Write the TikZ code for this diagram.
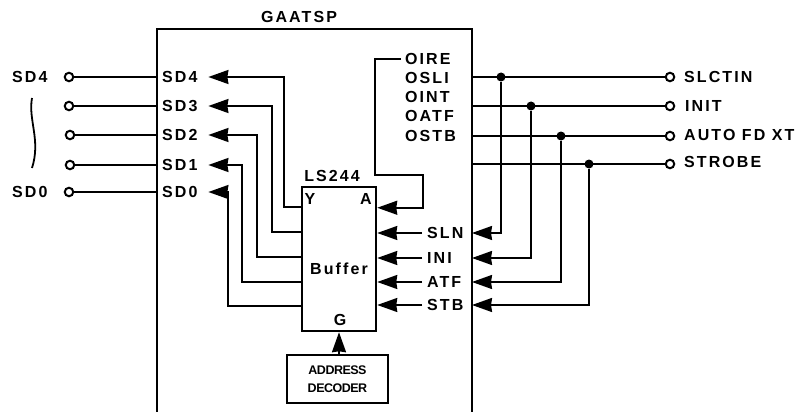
\documentclass[tikz,border=0pt]{standalone}
\usepackage{fontspec}
\usepackage{tikz}
\usetikzlibrary{arrows.meta,positioning}
\setmainfont{Liberation Sans}
\newfontfamily\sigfont[LetterSpace=13]{Liberation Sans Bold}
\newfontfamily\tightfont[LetterSpace=-4]{Liberation Sans Bold}

\begin{document}
\begin{tikzpicture}[
  x=1pt, y=-1pt,
  sig/.style={anchor=west, inner sep=0pt, font=\sigfont\fontsize{16}{18}\selectfont},
  sdsig/.style={sig, text width=46pt, align=left},
  pin/.style={draw, circle, line width=2pt, fill=white, inner sep=0pt, minimum size=8.5pt},
  dot/.style={circle, fill=black, inner sep=0pt, minimum size=9pt},
  wire/.style={line width=1.8pt},
  heavy/.style={line width=2.5pt},
  >={Stealth[length=20pt,width=14pt,inset=1pt]}
]
\useasboundingbox (0,0) rectangle (804,412);
\coordinate (chipbl) at (157,412);
\coordinate (chiptr) at (472,29);
\coordinate (chipbr) at (472,412);
\draw[heavy] (chipbl) |- (chiptr) -- (chipbr);
\node[sig, anchor=center] (gaatsp) at (299,17) {GAATSP};
\node[sdsig] (sd4) at (162,77) {SD4};
\node[sdsig] (sd3) at (162,106) {SD3};
\node[sdsig] (sd2) at (162,135) {SD2};
\node[sdsig] (sd1) at (162,165) {SD1};
\node[sdsig] (sd0) at (162,192) {SD0};
\node[pin] (pin4) at (69,77) {};
\node[pin] (pin3) at (69,106) {};
\node[pin] (pin2) at (70,135) {};
\node[pin] (pin1) at (70,165) {};
\node[pin] (pin0) at (69,192) {};
\node[sig] (ext4) at (12,77) {SD4};
\node[sig] (ext0) at (12,192) {SD0};
\draw[wire] (32,98) .. controls (28,120) and (41,140) .. (32,168);
\draw[wire] (pin4) -- (pin4 -| chipbl);
\draw[wire] (pin3) -- (pin3 -| chipbl);
\draw[wire] (pin2) -- (pin2 -| chipbl);
\draw[wire] (pin1) -- (pin1 -| chipbl);
\draw[wire] (pin0) -- (pin0 -| chipbl);
% buffer and decoder
\node[draw, heavy, minimum width=74pt, minimum height=144pt] (buffer) at (339,259) {};
\node[sig, anchor=center] (ls244) at (332,176) {LS244};
\node[sig, anchor=center] (ypin) at (310,199) {Y};
\node[sig, anchor=center] (apin) at (366,199) {A};
\node[sig, anchor=center] (gpin) at (340,320) {G};
\node[sig, anchor=center] (buflabel) at (339,269) {Buffer};
\node[draw, heavy, minimum width=101pt, minimum height=48pt, align=center,
  font=\tightfont\fontsize{12.5}{18}\selectfont] (decoder) at (337.5,379) {ADDRESS\\DECODER};
\draw[wire,->] (decoder.north -| buffer.south) -- (buffer.south);
% buffer outputs
\coordinate (buf4) at ([yshift=-21pt]buffer.west |- buffer.north);
\coordinate (buf3) at ([yshift=-46pt]buffer.west |- buffer.north);
\coordinate (buf2) at ([yshift=-71pt]buffer.west |- buffer.north);
\coordinate (buf1) at ([yshift=-96pt]buffer.west |- buffer.north);
\coordinate (buf0) at ([yshift=-120pt]buffer.west |- buffer.north);
\draw[wire,->] (buf4) -- ++(-17,0) |- (sd4.east);
\draw[wire,->] (buf3) -- ++(-29,0) |- (sd3.east);
\draw[wire,->] (buf2) -- ++(-44,0) |- (sd2.east);
\draw[wire,->] (buf1) -- ++(-59,0) |- (sd1.east);
\draw[wire,->] (buf0) -- ++(-73,0) |- (sd0.east);
% internal signals
\node[sig] (oire) at (405,59) {OIRE};
\node[sig] (osli) at (405,78) {OSLI};
\node[sig] (oint) at (405,97) {OINT};
\node[sig] (oatf) at (405,116) {OATF};
\node[sig] (ostb) at (405,136) {OSTB};
\coordinate (bufa) at ([yshift=-22pt]buffer.north east);
\draw[wire,->,shorten <=4pt] (oire.west) -| (375,175) -- (423,175) |- (bufa);
\node[sig] (sln) at (427,233) {SLN};
\node[sig] (ini) at (427,258) {INI};
\node[sig] (atf) at (427,282) {ATF};
\node[sig] (stb) at (427,305) {STB};
\draw[wire,->,shorten <=5pt] (sln.west) -- (sln -| buffer.east);
\draw[wire,->,shorten <=5pt] (ini.west) -- (ini -| buffer.east);
\draw[wire,->,shorten <=5pt] (atf.west) -- (atf -| buffer.east);
\draw[wire,->,shorten <=5pt] (stb.west) -- (stb -| buffer.east);
% printer side
\node[pin] (slctpin) at (670,77) {};
\node[pin] (initpin) at (670,106) {};
\node[pin] (autopin) at (670,136) {};
\node[pin] (strobepin) at (670,164) {};
\node[sig] (slctin) at (684,77) {SLCTIN};
\node[sig] (init) at (685,106) {INIT};
\node[sig] (autofd) at (684,135) {AUTO FD XT};
\node[sig] (strobe) at (684,162) {STROBE};
\draw[wire] (slctpin) -- (slctpin -| chiptr);
\draw[wire] (initpin) -- (initpin -| chiptr);
\draw[wire] (autopin) -- (autopin -| chiptr);
\draw[wire] (strobepin) -- (strobepin -| chiptr);
\node[dot] (slctdot) at (501,77) {};
\node[dot] (initdot) at (531,106) {};
\node[dot] (autodot) at (561,136) {};
\node[dot] (strobedot) at (589,164) {};
\draw[wire,->] (slctdot) |- (sln -| chiptr);
\draw[wire,->] (initdot) |- (ini -| chiptr);
\draw[wire,->] (autodot) |- (atf -| chiptr);
\draw[wire,->] (strobedot) |- (stb -| chiptr);
\end{tikzpicture}
\end{document}
